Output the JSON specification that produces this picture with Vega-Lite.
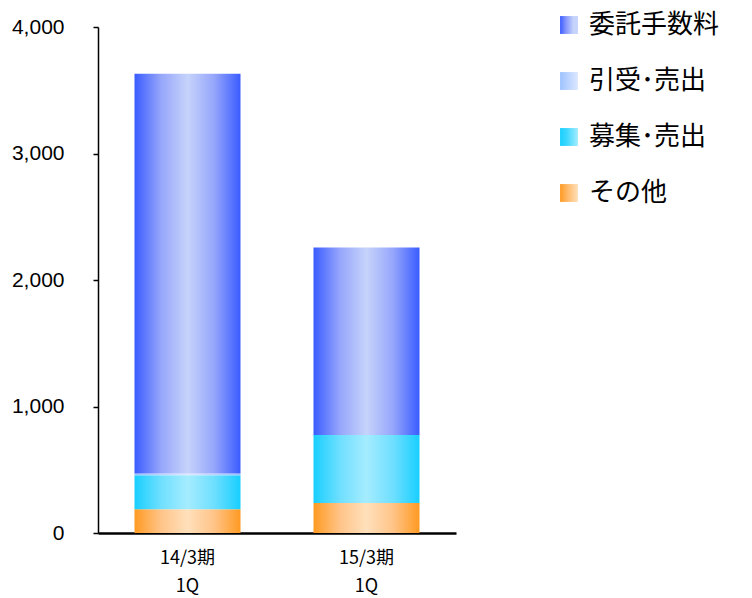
{
  "$schema": "https://vega.github.io/schema/vega-lite/v6.json",
  "autosize": "none",
  "width": 358,
  "height": 506,
  "padding": {"left": 98, "top": 27, "right": 296, "bottom": 65},
  "background": "white",
  "config": {
    "view": {"stroke": null},
    "axisX": {
      "labelFont": "Noto Sans CJK JP", "labelFontSize": 18, "labelColor": "#000",
      "labelPadding": 25, "labelLineHeight": 28, "labelBaseline": "middle",
      "domainColor": "#000", "domainWidth": 2.5, "ticks": false
    },
    "axisY": {
      "labelFont": "Liberation Sans", "labelFontSize": 21, "labelColor": "#000",
      "labelPadding": 29, "tickSize": 5, "tickColor": "#000", "tickWidth": 1.5,
      "domainColor": "#000", "domainWidth": 1.5, "grid": false
    }
  },
  "data": {
    "values": [
      {"period": "14/3期 1Q", "type": "その他", "order": 1, "value": 187},
      {"period": "14/3期 1Q", "type": "募集･売出", "order": 2, "value": 270},
      {"period": "14/3期 1Q", "type": "引受･売出", "order": 3, "value": 14},
      {"period": "14/3期 1Q", "type": "委託手数料", "order": 4, "value": 3160},
      {"period": "15/3期 1Q", "type": "その他", "order": 1, "value": 238},
      {"period": "15/3期 1Q", "type": "募集･売出", "order": 2, "value": 537},
      {"period": "15/3期 1Q", "type": "引受･売出", "order": 3, "value": 0},
      {"period": "15/3期 1Q", "type": "委託手数料", "order": 4, "value": 1481}
    ]
  },
  "transform": [
    {"stack": "value", "groupby": ["period"], "sort": [{"field": "order", "order": "ascending"}], "as": ["y0", "y1"]}
  ],
  "encoding": {
    "x": {
      "field": "period", "type": "nominal", "sort": null,
      "scale": {"paddingInner": 0.4, "paddingOuter": 0.2},
      "axis": {
        "title": null, "labelAngle": 0,
        "labelExpr": "split(datum.value, ' ')"
      }
    },
    "y": {
      "field": "y0", "type": "quantitative",
      "scale": {"domain": [0, 4000]},
      "axis": {
        "title": null, "values": [0, 1000, 2000, 3000, 4000],
        "labelExpr": "format(datum.value, ',d')"
      }
    }
  },
  "layer": [
    {
      "transform": [{"filter": "datum.type === 'その他'"}],
      "mark": {"type": "bar", "width": 106, "color": {"gradient": "linear", "x1": 0, "y1": 0, "x2": 1, "y2": 0, "stops": [
        {"offset": 0, "color": "#ff9a22"}, {"offset": 0.25, "color": "#ffc488"},
        {"offset": 0.5, "color": "#ffe0bb"}, {"offset": 0.75, "color": "#ffc488"},
        {"offset": 1, "color": "#ff9a22"}]}},
      "encoding": {"y2": {"field": "y1"}}
    },
    {
      "transform": [{"filter": "datum.type === '募集･売出'"}],
      "mark": {"type": "bar", "width": 106, "color": {"gradient": "linear", "x1": 0, "y1": 0, "x2": 1, "y2": 0, "stops": [
        {"offset": 0, "color": "#18cfff"}, {"offset": 0.25, "color": "#6fdfff"},
        {"offset": 0.5, "color": "#a5ecff"}, {"offset": 0.75, "color": "#6fdfff"},
        {"offset": 1, "color": "#18cfff"}]}},
      "encoding": {"y2": {"field": "y1"}}
    },
    {
      "transform": [{"filter": "datum.type === '引受･売出'"}],
      "mark": {"type": "bar", "width": 106, "color": {"gradient": "linear", "x1": 0, "y1": 0, "x2": 1, "y2": 0, "stops": [
        {"offset": 0, "color": "#9ec2ff"}, {"offset": 0.5, "color": "#dde8ff"},
        {"offset": 1, "color": "#9ec2ff"}]}},
      "encoding": {"y2": {"field": "y1"}}
    },
    {
      "transform": [{"filter": "datum.type === '委託手数料'"}],
      "mark": {"type": "bar", "width": 106, "color": {"gradient": "linear", "x1": 0, "y1": 0, "x2": 1, "y2": 0, "stops": [
        {"offset": 0, "color": "#3a5cff"}, {"offset": 0.25, "color": "#96a6fb"},
        {"offset": 0.5, "color": "#c6d3fb"}, {"offset": 0.75, "color": "#96a6fb"},
        {"offset": 1, "color": "#3a5cff"}]}},
      "encoding": {"y2": {"field": "y1"}}
    },
    {
      "mark": {"type": "line", "opacity": 0, "strokeWidth": 0},
      "encoding": {
        "color": {
          "field": "type", "type": "nominal",
          "scale": {
            "domain": ["委託手数料", "引受･売出", "募集･売出", "その他"],
            "range": ["#3a5cff", "#9ec2ff", "#18cfff", "#ff9a22"]
          },
          "legend": {
            "title": null, "orient": "none", "legendX": 458, "legendY": -15, "padding": 0,
            "symbolType": "square", "symbolSize": 320, "symbolStrokeWidth": 0, "symbolOpacity": 1,
            "labelFont": "Noto Sans CJK JP", "labelFontSize": 26, "labelColor": "#000",
            "labelOffset": 7, "rowPadding": 30, "labelLimit": 300,
            "symbolFillColor": {"expr": "datum.value === '委託手数料' ? {gradient: 'linear', x1: 0, y1: 0, x2: 1, y2: 0, stops: [{offset: 0, color: '#3a5cff'}, {offset: 0.3, color: '#7f90fd'}, {offset: 0.75, color: '#c6d3fb'}, {offset: 1, color: '#c6d3fb'}]} : datum.value === '引受･売出' ? {gradient: 'linear', x1: 0, y1: 0, x2: 1, y2: 0, stops: [{offset: 0, color: '#9ec2ff'}, {offset: 1, color: '#dde8ff'}]} : datum.value === '募集･売出' ? {gradient: 'linear', x1: 0, y1: 0, x2: 1, y2: 0, stops: [{offset: 0, color: '#18cfff'}, {offset: 0.4, color: '#40d8ff'}, {offset: 1, color: '#a5ecff'}]} : {gradient: 'linear', x1: 0, y1: 0, x2: 1, y2: 0, stops: [{offset: 0, color: '#ff9a22'}, {offset: 0.4, color: '#ffb866'}, {offset: 1, color: '#ffe0bb'}]}"}
          }
        }
      }
    }
  ]
}
